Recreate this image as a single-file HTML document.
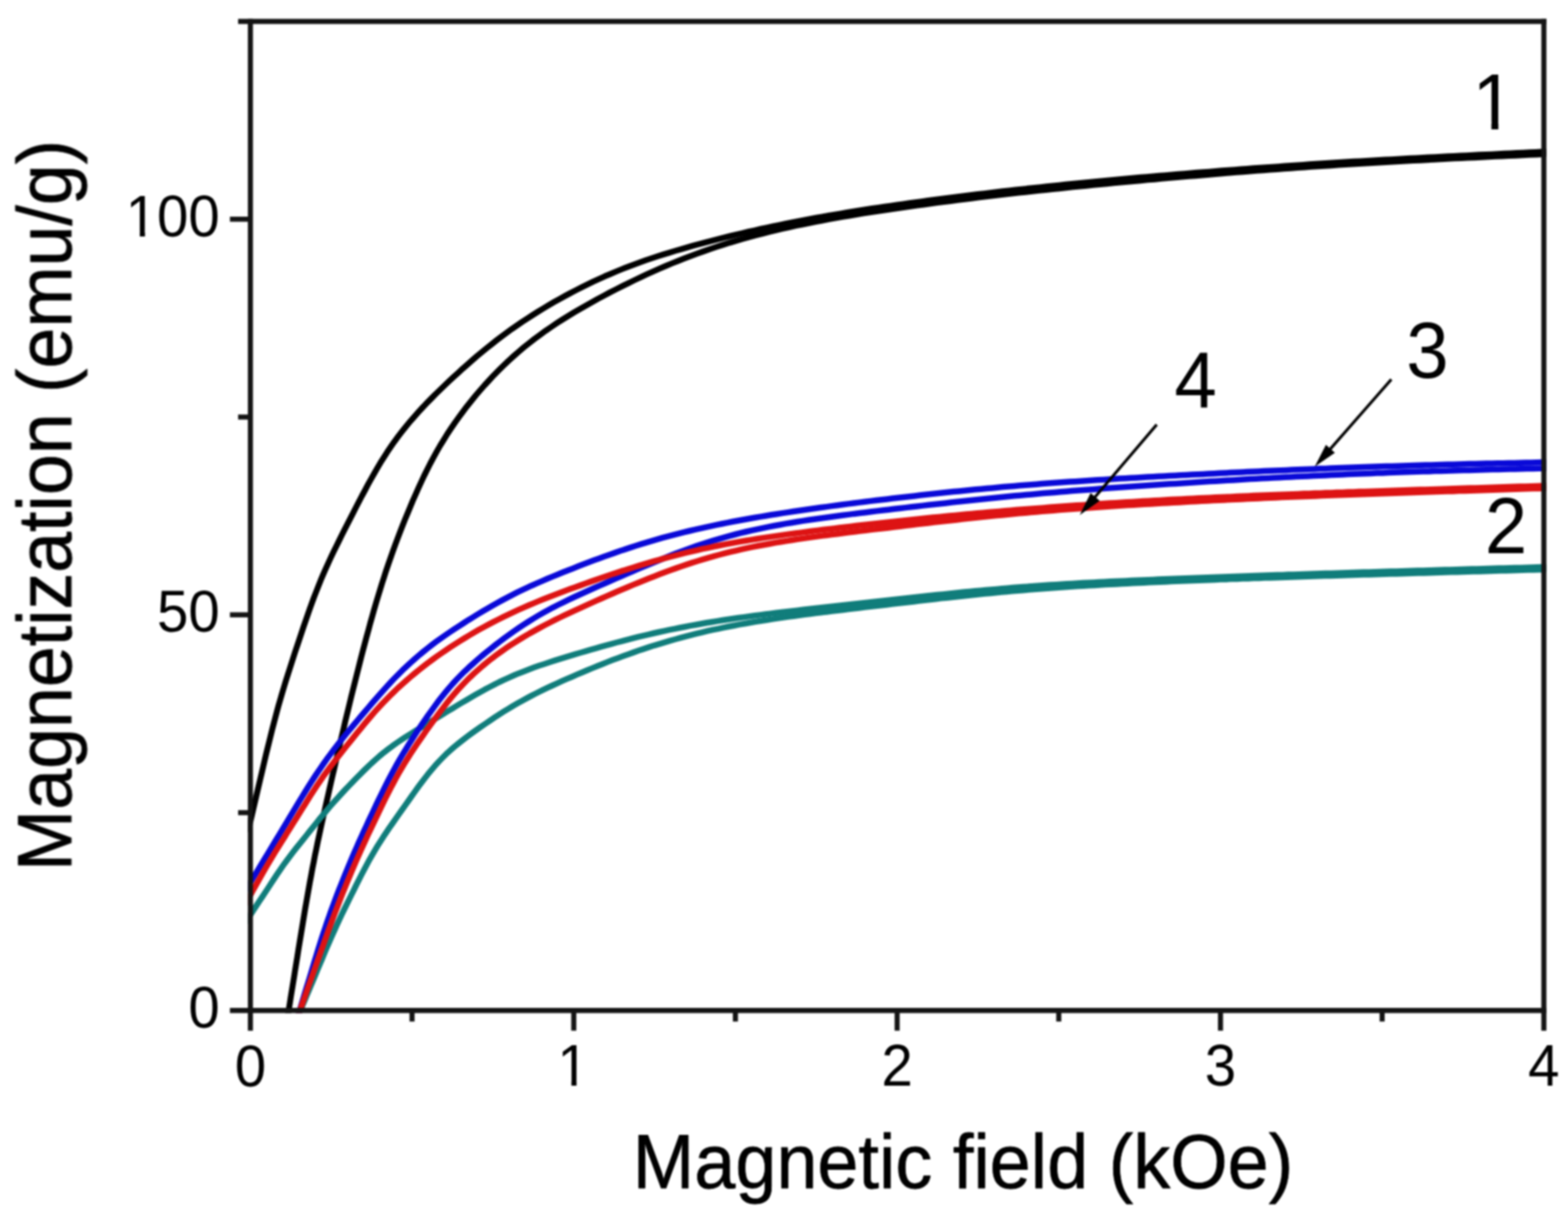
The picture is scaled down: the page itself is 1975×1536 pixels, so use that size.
<!DOCTYPE html>
<html lang="en"><head><meta charset="utf-8"><title>Magnetization vs magnetic field</title>
<style>html,body{margin:0;padding:0;background:#fff}body{width:1975px;height:1536px;overflow:hidden}svg{display:block}text{font-family:'Liberation Sans', sans-serif;fill:#000}</style>
</head><body>
<svg xmlns="http://www.w3.org/2000/svg" width="1975" height="1536" viewBox="0 0 1975 1536">
<defs>
<clipPath id="plot"><rect x="312.2" y="23.8" width="1635.6" height="1252.6"/></clipPath>
<clipPath id="c100"><path clip-rule="evenodd" d="M-50,-50 H2025 V1586 H-50 Z M161.8,291.1 H176.1 V303.7 H161.8 Z M182.6,291.1 H196.5 V303.7 H182.6 Z"/></clipPath>
<clipPath id="c1t"><path clip-rule="evenodd" d="M-50,-50 H2025 V1586 H-50 Z M705.4,1361.8 H719.7 V1374.5 H705.4 Z M726.2,1361.8 H740.1 V1374.5 H726.2 Z"/></clipPath>
<clipPath id="c1l"><path clip-rule="evenodd" d="M-50,-50 H2025 V1586 H-50 Z M1859.2,154.0 H1878.5 V169.0 H1859.2 Z M1887.3,154.0 H1906.1 V169.0 H1887.3 Z"/></clipPath>
<filter id="soft" x="0" y="0" width="1975" height="1536" filterUnits="userSpaceOnUse" color-interpolation-filters="sRGB"><feGaussianBlur stdDeviation="1.0"/></filter>
</defs>
<rect x="0" y="0" width="1975" height="1536" fill="#ffffff"/>
<g filter="url(#soft)">
<g fill="none" stroke-linejoin="round" stroke-linecap="butt" clip-path="url(#plot)">
<path d="M312.2,1048.6 L315.4,1035.0 L317.2,1027.3 L319.0,1019.6 L320.8,1011.9 L322.6,1004.2 L324.4,996.4 L326.2,988.7 L328.0,981.0 L329.8,973.3 L331.6,965.6 L333.4,957.9 L335.2,950.2 L337.1,942.5 L339.0,934.8 L340.9,927.1 L342.8,919.4 L344.8,911.8 L346.8,904.1 L348.8,896.5 L350.9,888.8 L353.1,881.2 L355.3,873.6 L357.6,866.0 L359.9,858.4 L362.3,850.9 L364.7,843.3 L367.1,835.8 L369.5,828.3 L372.0,820.7 L374.5,813.2 L377.0,805.7 L379.5,798.2 L382.0,790.7 L384.6,783.2 L387.2,775.7 L389.8,768.2 L392.5,760.8 L395.2,753.4 L398.1,746.0 L401.0,738.6 L403.9,731.3 L407.0,724.0 L410.2,716.7 L413.5,709.5 L416.8,702.3 L420.2,695.2 L423.7,688.1 L427.2,681.0 L430.7,673.9 L434.3,666.8 L437.9,659.8 L441.5,652.7 L445.1,645.7 L448.7,638.6 L452.4,631.6 L456.0,624.6 L459.8,617.6 L463.5,610.6 L467.3,603.7 L471.2,596.8 L475.2,589.9 L479.2,583.1 L483.4,576.4 L487.7,569.7 L492.1,563.2 L496.6,556.7 L501.3,550.3 L506.1,544.0 L511.0,537.8 L516.1,531.7 L521.3,525.7 L526.5,519.8 L531.9,513.9 L537.3,508.2 L542.9,502.5 L548.4,496.9 L554.1,491.4 L559.8,485.9 L565.5,480.4 L571.3,475.0 L577.2,469.7 L583.0,464.3 L589.0,459.1 L594.9,453.9 L600.9,448.7 L607.0,443.7 L613.1,438.6 L619.3,433.7 L625.5,428.8 L631.8,424.0 L638.2,419.3 L644.6,414.6 L651.1,410.1 L657.6,405.6 L664.2,401.3 L670.9,397.0 L677.6,392.8 L684.4,388.6 L691.2,384.6 L698.0,380.6 L704.9,376.7 L711.8,372.9 L718.8,369.1 L725.8,365.5 L732.9,361.9 L740.0,358.4 L747.1,354.9 L754.3,351.6 L761.5,348.3 L768.8,345.2 L776.1,342.1 L783.4,339.1 L790.8,336.2 L798.2,333.4 L805.6,330.7 L813.1,328.0 L820.6,325.5 L828.1,323.0 L835.6,320.6 L843.2,318.3 L850.8,316.0 L858.4,313.8 L866.0,311.6 L873.6,309.4 L881.3,307.4 L888.9,305.3 L896.6,303.3 L904.2,301.3 L911.9,299.4 L919.6,297.5 L927.3,295.6 L935.0,293.8 L942.7,292.0 L950.4,290.3 L958.2,288.5 L965.9,286.9 L973.6,285.2 L981.4,283.6 L989.2,282.0 L996.9,280.4 L1004.7,278.9 L1012.5,277.4 L1020.2,276.0 L1028.0,274.5 L1035.8,273.1 L1043.6,271.7 L1051.4,270.4 L1059.2,269.1 L1067.0,267.8 L1074.9,266.5 L1082.7,265.3 L1090.5,264.0 L1098.3,262.8 L1106.2,261.7 L1114.0,260.5 L1121.8,259.4 L1129.7,258.2 L1137.5,257.1 L1145.3,256.0 L1153.2,254.9 L1161.0,253.9 L1168.9,252.8 L1176.7,251.8 L1184.6,250.7 L1192.4,249.7 L1200.3,248.7 L1208.1,247.7 L1216.0,246.8 L1223.9,245.8 L1231.7,244.8 L1239.6,243.9 L1247.4,242.9 L1255.3,242.0 L1263.2,241.1 L1271.0,240.2 L1278.9,239.3 L1286.8,238.4 L1294.7,237.6 L1302.5,236.7 L1310.4,235.9 L1318.3,235.0 L1326.1,234.2 L1334.0,233.4 L1341.9,232.6 L1349.8,231.8 L1357.7,231.0 L1365.5,230.2 L1373.4,229.4 L1381.3,228.7 L1389.2,227.9 L1397.1,227.2 L1405.0,226.5 L1412.8,225.8 L1420.7,225.0 L1428.6,224.3 L1436.5,223.6 L1444.4,222.9 L1452.3,222.3 L1460.2,221.6 L1468.1,220.9 L1475.9,220.2 L1483.8,219.6 L1491.7,218.9 L1499.6,218.3 L1507.5,217.6 L1515.4,217.0 L1523.3,216.4 L1531.2,215.8 L1539.1,215.1 L1547.0,214.5 L1554.9,213.9 L1562.8,213.3 L1570.7,212.7 L1578.6,212.1 L1586.5,211.6 L1594.4,211.0 L1602.3,210.4 L1610.1,209.9 L1618.0,209.3 L1625.9,208.7 L1633.8,208.2 L1641.7,207.7 L1649.6,207.1 L1657.5,206.6 L1665.5,206.1 L1673.4,205.6 L1681.3,205.1 L1689.2,204.6 L1697.1,204.1 L1705.0,203.6 L1712.9,203.2 L1720.8,202.7 L1728.7,202.2 L1736.6,201.8 L1744.5,201.3 L1752.4,200.9 L1760.3,200.4 L1768.2,200.0 L1776.1,199.6 L1784.0,199.2 L1791.9,198.7 L1799.8,198.3 L1807.7,197.9 L1815.7,197.5 L1823.6,197.1 L1831.5,196.7 L1839.4,196.3 L1847.3,195.9 L1855.2,195.5 L1863.1,195.1 L1871.0,194.7 L1878.9,194.4 L1886.8,194.0 L1894.7,193.6 L1902.6,193.2 L1910.6,192.8 L1918.5,192.5 L1926.4,192.1 L1934.3,191.7 L1942.2,191.3 L1956.2,190.7" stroke="#000000" stroke-width="7.5"/>
<path d="M361.4,1286.8 L363.6,1273.0 L365.0,1264.5 L366.3,1256.0 L367.7,1247.5 L369.1,1239.0 L370.5,1230.5 L371.8,1222.0 L373.2,1213.5 L374.6,1205.0 L375.9,1196.5 L377.3,1188.0 L378.7,1179.6 L380.1,1171.1 L381.5,1162.6 L382.9,1154.1 L384.3,1145.6 L385.8,1137.1 L387.3,1128.7 L388.8,1120.2 L390.3,1111.7 L391.9,1103.3 L393.4,1094.8 L395.1,1086.4 L396.7,1077.9 L398.5,1069.5 L400.2,1061.1 L402.0,1052.7 L403.8,1044.3 L405.6,1035.9 L407.5,1027.5 L409.4,1019.1 L411.3,1010.7 L413.2,1002.3 L415.1,993.9 L417.0,985.5 L418.9,977.1 L420.9,968.8 L422.8,960.4 L424.8,952.0 L426.7,943.6 L428.7,935.2 L430.7,926.9 L432.7,918.5 L434.6,910.1 L436.6,901.8 L438.7,893.4 L440.7,885.0 L442.7,876.7 L444.8,868.3 L446.9,860.0 L449.0,851.7 L451.1,843.3 L453.2,835.0 L455.3,826.6 L457.5,818.3 L459.7,810.0 L461.9,801.7 L464.2,793.4 L466.4,785.1 L468.8,776.8 L471.1,768.5 L473.5,760.3 L476.0,752.0 L478.5,743.8 L481.0,735.6 L483.7,727.4 L486.3,719.2 L489.1,711.1 L491.9,703.0 L494.8,694.8 L497.7,686.8 L500.7,678.7 L503.8,670.7 L506.9,662.7 L510.1,654.7 L513.4,646.7 L516.7,638.8 L520.0,630.8 L523.5,623.0 L527.0,615.1 L530.6,607.3 L534.2,599.5 L538.0,591.8 L541.9,584.1 L546.0,576.5 L550.1,569.0 L554.4,561.5 L558.9,554.2 L563.4,546.9 L568.2,539.7 L573.0,532.6 L578.0,525.6 L583.1,518.7 L588.3,511.8 L593.7,505.1 L599.1,498.4 L604.7,491.9 L610.4,485.4 L616.2,479.1 L622.0,472.8 L628.1,466.6 L634.2,460.6 L640.4,454.7 L646.8,448.9 L653.3,443.2 L659.8,437.7 L666.5,432.3 L673.3,427.0 L680.2,421.9 L687.2,416.8 L694.3,412.0 L701.4,407.2 L708.7,402.5 L716.0,398.0 L723.3,393.5 L730.7,389.2 L738.2,384.9 L745.7,380.7 L753.2,376.5 L760.8,372.5 L768.4,368.4 L776.1,364.5 L783.7,360.6 L791.4,356.8 L799.2,353.0 L806.9,349.3 L814.7,345.7 L822.6,342.1 L830.4,338.6 L838.3,335.2 L846.3,331.9 L854.2,328.7 L862.2,325.5 L870.3,322.4 L878.3,319.5 L886.4,316.6 L894.6,313.7 L902.7,311.0 L910.9,308.4 L919.1,305.8 L927.4,303.4 L935.6,301.0 L943.9,298.7 L952.2,296.4 L960.5,294.3 L968.9,292.2 L977.3,290.1 L985.6,288.2 L994.0,286.3 L1002.4,284.4 L1010.8,282.7 L1019.3,281.0 L1027.7,279.3 L1036.2,277.7 L1044.6,276.1 L1053.1,274.6 L1061.6,273.1 L1070.0,271.7 L1078.5,270.3 L1087.0,268.9 L1095.5,267.6 L1104.0,266.3 L1112.5,265.0 L1121.0,263.7 L1129.5,262.5 L1138.1,261.3 L1146.6,260.1 L1155.1,258.9 L1163.6,257.7 L1172.1,256.6 L1180.7,255.4 L1189.2,254.3 L1197.7,253.2 L1206.3,252.1 L1214.8,251.0 L1223.3,250.0 L1231.9,248.9 L1240.4,247.9 L1248.9,246.9 L1257.5,245.9 L1266.0,244.9 L1274.6,243.9 L1283.1,242.9 L1291.7,242.0 L1300.2,241.0 L1308.8,240.1 L1317.3,239.2 L1325.9,238.2 L1334.4,237.4 L1343.0,236.5 L1351.5,235.6 L1360.1,234.7 L1368.7,233.9 L1377.2,233.0 L1385.8,232.2 L1394.3,231.4 L1402.9,230.6 L1411.5,229.8 L1420.0,229.0 L1428.6,228.2 L1437.2,227.4 L1445.7,226.6 L1454.3,225.9 L1462.9,225.1 L1471.4,224.3 L1480.0,223.6 L1488.6,222.8 L1497.2,222.1 L1505.7,221.4 L1514.3,220.7 L1522.9,219.9 L1531.4,219.2 L1540.0,218.5 L1548.6,217.8 L1557.2,217.1 L1565.7,216.5 L1574.3,215.8 L1582.9,215.1 L1591.5,214.5 L1600.0,213.8 L1608.6,213.2 L1617.2,212.6 L1625.8,211.9 L1634.4,211.3 L1642.9,210.7 L1651.5,210.1 L1660.1,209.5 L1668.7,209.0 L1677.3,208.4 L1685.9,207.8 L1694.4,207.3 L1703.0,206.8 L1711.6,206.2 L1720.2,205.7 L1728.8,205.2 L1737.4,204.7 L1746.0,204.2 L1754.5,203.7 L1763.1,203.3 L1771.7,202.8 L1780.3,202.3 L1788.9,201.9 L1797.5,201.4 L1806.1,201.0 L1814.7,200.5 L1823.3,200.1 L1831.8,199.6 L1840.4,199.2 L1849.0,198.8 L1857.6,198.4 L1866.2,197.9 L1874.8,197.5 L1883.4,197.1 L1892.0,196.7 L1900.6,196.3 L1909.2,195.9 L1917.8,195.5 L1926.4,195.1 L1934.9,194.7 L1943.5,194.3 L1957.5,193.6" stroke="#000000" stroke-width="7.5"/>
<path d="M307.8,1164.3 L315.5,1152.6 L319.2,1146.9 L323.0,1141.2 L326.7,1135.5 L330.5,1129.8 L334.2,1124.2 L338.0,1118.5 L341.7,1112.8 L345.4,1107.1 L349.2,1101.4 L353.0,1095.8 L356.9,1090.2 L360.9,1084.7 L365.0,1079.2 L369.1,1073.8 L373.3,1068.4 L377.6,1063.1 L381.8,1057.8 L386.1,1052.5 L390.3,1047.2 L394.6,1041.9 L398.9,1036.5 L403.1,1031.2 L407.5,1026.0 L411.8,1020.8 L416.2,1015.6 L420.7,1010.5 L425.3,1005.4 L429.9,1000.4 L434.5,995.4 L439.2,990.5 L443.9,985.6 L448.7,980.7 L453.5,975.8 L458.3,971.0 L463.2,966.3 L468.1,961.6 L473.2,957.0 L478.3,952.5 L483.5,948.2 L488.9,944.0 L494.4,939.9 L499.9,936.0 L505.6,932.2 L511.3,928.4 L517.0,924.8 L522.8,921.2 L528.6,917.7 L534.4,914.1 L540.2,910.6 L546.1,907.1 L551.9,903.5 L557.7,900.0 L563.5,896.4 L569.4,892.9 L575.2,889.4 L581.0,885.9 L586.9,882.4 L592.8,879.0 L598.7,875.6 L604.6,872.2 L610.5,868.9 L616.6,865.7 L622.6,862.6 L628.7,859.5 L634.8,856.6 L641.0,853.8 L647.3,851.0 L653.5,848.4 L659.9,845.9 L666.2,843.5 L672.6,841.1 L679.0,838.8 L685.5,836.7 L692.0,834.5 L698.4,832.4 L704.9,830.4 L711.4,828.4 L718.0,826.4 L724.5,824.4 L731.0,822.5 L737.5,820.6 L744.1,818.7 L750.6,816.8 L757.2,814.9 L763.7,813.1 L770.3,811.3 L776.9,809.5 L783.5,807.8 L790.0,806.1 L796.6,804.4 L803.3,802.7 L809.9,801.1 L816.5,799.6 L823.1,798.0 L829.8,796.5 L836.4,795.1 L843.1,793.7 L849.8,792.3 L856.4,791.0 L863.1,789.7 L869.8,788.4 L876.5,787.2 L883.2,786.0 L889.9,784.8 L896.6,783.7 L903.4,782.6 L910.1,781.5 L916.8,780.5 L923.6,779.5 L930.3,778.5 L937.0,777.6 L943.8,776.6 L950.5,775.7 L957.3,774.9 L964.0,774.0 L970.8,773.1 L977.6,772.3 L984.3,771.5 L991.1,770.7 L997.8,769.9 L1004.6,769.1 L1011.4,768.3 L1018.1,767.5 L1024.9,766.7 L1031.7,766.0 L1038.4,765.2 L1045.2,764.5 L1052.0,763.7 L1058.7,762.9 L1065.5,762.2 L1072.3,761.4 L1079.0,760.7 L1085.8,759.9 L1092.6,759.2 L1099.3,758.4 L1106.1,757.7 L1112.9,756.9 L1119.7,756.2 L1126.4,755.4 L1133.2,754.7 L1140.0,754.0 L1146.7,753.2 L1153.5,752.5 L1160.3,751.8 L1167.0,751.0 L1173.8,750.3 L1180.6,749.6 L1187.4,748.9 L1194.1,748.2 L1200.9,747.5 L1207.7,746.8 L1214.5,746.1 L1221.2,745.5 L1228.0,744.8 L1234.8,744.2 L1241.6,743.6 L1248.4,743.0 L1255.1,742.4 L1261.9,741.8 L1268.7,741.2 L1275.5,740.6 L1282.3,740.1 L1289.1,739.6 L1295.9,739.1 L1302.7,738.6 L1309.5,738.1 L1316.2,737.6 L1323.0,737.1 L1329.8,736.7 L1336.6,736.3 L1343.4,735.8 L1350.2,735.4 L1357.0,735.0 L1363.8,734.6 L1370.6,734.3 L1377.4,733.9 L1384.2,733.5 L1391.0,733.2 L1397.8,732.8 L1404.6,732.5 L1411.4,732.2 L1418.2,731.9 L1425.0,731.6 L1431.8,731.3 L1438.6,731.0 L1445.4,730.7 L1452.2,730.4 L1459.0,730.1 L1465.9,729.8 L1472.7,729.5 L1479.5,729.3 L1486.3,729.0 L1493.1,728.7 L1499.9,728.5 L1506.7,728.2 L1513.5,727.9 L1520.3,727.7 L1527.1,727.4 L1533.9,727.2 L1540.7,726.9 L1547.5,726.7 L1554.3,726.5 L1561.1,726.2 L1567.9,726.0 L1574.7,725.7 L1581.5,725.5 L1588.3,725.3 L1595.2,725.0 L1602.0,724.8 L1608.8,724.6 L1615.6,724.4 L1622.4,724.1 L1629.2,723.9 L1636.0,723.7 L1642.8,723.5 L1649.6,723.3 L1656.4,723.0 L1663.2,722.8 L1670.0,722.6 L1676.8,722.4 L1683.6,722.2 L1690.4,722.0 L1697.2,721.8 L1704.1,721.5 L1710.9,721.3 L1717.7,721.1 L1724.5,720.9 L1731.3,720.7 L1738.1,720.5 L1744.9,720.3 L1751.7,720.1 L1758.5,719.9 L1765.3,719.7 L1772.1,719.5 L1778.9,719.3 L1785.7,719.1 L1792.5,718.9 L1799.3,718.7 L1806.2,718.5 L1813.0,718.3 L1819.8,718.1 L1826.6,717.9 L1833.4,717.7 L1840.2,717.5 L1847.0,717.3 L1853.8,717.1 L1860.6,716.9 L1867.4,716.7 L1874.2,716.5 L1881.0,716.3 L1887.8,716.1 L1894.6,715.9 L1901.5,715.7 L1908.3,715.5 L1915.1,715.4 L1921.9,715.2 L1928.7,715.0 L1935.5,714.8 L1942.3,714.6 L1956.3,714.2" stroke="#107d7b" stroke-width="7.5"/>
<path d="M373.1,1285.9 L378.5,1273.0 L381.2,1266.6 L383.9,1260.2 L386.5,1253.9 L389.2,1247.5 L391.9,1241.1 L394.6,1234.7 L397.3,1228.3 L399.9,1221.9 L402.6,1215.6 L405.3,1209.2 L407.9,1202.8 L410.6,1196.4 L413.4,1190.1 L416.1,1183.7 L418.9,1177.4 L421.8,1171.1 L424.6,1164.8 L427.6,1158.5 L430.5,1152.2 L433.5,1146.0 L436.6,1139.8 L439.6,1133.6 L442.7,1127.4 L445.8,1121.2 L448.8,1115.0 L452.0,1108.8 L455.1,1102.6 L458.3,1096.5 L461.5,1090.4 L464.8,1084.3 L468.2,1078.3 L471.7,1072.3 L475.3,1066.3 L479.0,1060.5 L482.7,1054.7 L486.6,1048.9 L490.4,1043.2 L494.4,1037.5 L498.3,1031.8 L502.3,1026.1 L506.3,1020.5 L510.3,1014.8 L514.3,1009.2 L518.3,1003.5 L522.3,997.9 L526.3,992.3 L530.4,986.7 L534.6,981.2 L538.9,975.7 L543.3,970.4 L547.8,965.1 L552.4,960.0 L557.2,955.0 L562.1,950.1 L567.2,945.4 L572.4,940.9 L577.8,936.5 L583.2,932.2 L588.7,928.0 L594.3,923.9 L599.9,919.9 L605.6,915.9 L611.3,912.0 L617.0,908.1 L622.8,904.2 L628.6,900.4 L634.4,896.7 L640.3,893.1 L646.2,889.5 L652.2,886.1 L658.2,882.7 L664.3,879.4 L670.4,876.1 L676.6,873.0 L682.8,869.9 L689.0,866.9 L695.3,864.0 L701.6,861.1 L707.9,858.2 L714.2,855.4 L720.6,852.7 L726.9,849.9 L733.3,847.2 L739.7,844.5 L746.1,841.9 L752.5,839.3 L758.9,836.7 L765.3,834.1 L771.8,831.6 L778.3,829.2 L784.8,826.8 L791.3,824.4 L797.8,822.1 L804.3,819.8 L810.9,817.6 L817.5,815.4 L824.0,813.3 L830.7,811.3 L837.3,809.3 L843.9,807.4 L850.6,805.5 L857.3,803.6 L863.9,801.8 L870.7,800.1 L877.4,798.4 L884.1,796.8 L890.8,795.2 L897.6,793.7 L904.4,792.3 L911.1,790.9 L917.9,789.5 L924.7,788.2 L931.5,786.9 L938.3,785.7 L945.1,784.5 L952.0,783.4 L958.8,782.2 L965.6,781.2 L972.5,780.1 L979.3,779.1 L986.2,778.1 L993.0,777.1 L999.9,776.2 L1006.7,775.3 L1013.6,774.4 L1020.5,773.5 L1027.3,772.6 L1034.2,771.7 L1041.1,770.9 L1047.9,770.1 L1054.8,769.2 L1061.7,768.4 L1068.6,767.6 L1075.4,766.7 L1082.3,765.9 L1089.2,765.1 L1096.1,764.3 L1102.9,763.5 L1109.8,762.7 L1116.7,761.9 L1123.6,761.1 L1130.4,760.3 L1137.3,759.5 L1144.2,758.7 L1151.1,757.9 L1157.9,757.1 L1164.8,756.3 L1171.7,755.5 L1178.6,754.7 L1185.4,753.9 L1192.3,753.2 L1199.2,752.4 L1206.1,751.7 L1213.0,750.9 L1219.8,750.2 L1226.7,749.5 L1233.6,748.8 L1240.5,748.1 L1247.4,747.4 L1254.3,746.7 L1261.2,746.1 L1268.1,745.5 L1274.9,744.8 L1281.8,744.2 L1288.7,743.7 L1295.6,743.1 L1302.5,742.5 L1309.4,742.0 L1316.3,741.5 L1323.2,741.0 L1330.1,740.5 L1337.0,740.0 L1344.0,739.5 L1350.9,739.1 L1357.8,738.6 L1364.7,738.2 L1371.6,737.8 L1378.5,737.4 L1385.4,737.0 L1392.3,736.6 L1399.2,736.2 L1406.1,735.9 L1413.1,735.5 L1420.0,735.2 L1426.9,734.8 L1433.8,734.5 L1440.7,734.2 L1447.6,733.8 L1454.5,733.5 L1461.4,733.2 L1468.4,732.9 L1475.3,732.6 L1482.2,732.3 L1489.1,732.0 L1496.0,731.8 L1502.9,731.5 L1509.9,731.2 L1516.8,730.9 L1523.7,730.7 L1530.6,730.4 L1537.5,730.1 L1544.4,729.9 L1551.4,729.6 L1558.3,729.4 L1565.2,729.1 L1572.1,728.9 L1579.0,728.6 L1585.9,728.4 L1592.9,728.1 L1599.8,727.9 L1606.7,727.7 L1613.6,727.4 L1620.5,727.2 L1627.4,727.0 L1634.4,726.7 L1641.3,726.5 L1648.2,726.3 L1655.1,726.1 L1662.0,725.8 L1668.9,725.6 L1675.9,725.4 L1682.8,725.2 L1689.7,725.0 L1696.6,724.8 L1703.5,724.5 L1710.5,724.3 L1717.4,724.1 L1724.3,723.9 L1731.2,723.7 L1738.1,723.5 L1745.0,723.3 L1752.0,723.1 L1758.9,722.9 L1765.8,722.7 L1772.7,722.5 L1779.6,722.3 L1786.6,722.1 L1793.5,721.9 L1800.4,721.7 L1807.3,721.5 L1814.2,721.3 L1821.1,721.0 L1828.1,720.8 L1835.0,720.7 L1841.9,720.5 L1848.8,720.3 L1855.7,720.1 L1862.7,719.9 L1869.6,719.7 L1876.5,719.5 L1883.4,719.3 L1890.3,719.1 L1897.2,718.9 L1904.2,718.7 L1911.1,718.5 L1918.0,718.3 L1924.9,718.1 L1931.8,717.9 L1938.8,717.7 L1952.8,717.3" stroke="#107d7b" stroke-width="7.5"/>
<path d="M308.3,1123.6 L315.5,1111.6 L319.1,1105.6 L322.8,1099.6 L326.4,1093.6 L330.0,1087.6 L333.6,1081.6 L337.3,1075.6 L340.9,1069.6 L344.5,1063.6 L348.1,1057.6 L351.8,1051.6 L355.4,1045.6 L359.0,1039.6 L362.6,1033.6 L366.2,1027.6 L369.8,1021.6 L373.4,1015.6 L377.0,1009.6 L380.7,1003.6 L384.3,997.7 L388.0,991.7 L391.8,985.8 L395.6,979.9 L399.4,974.1 L403.4,968.3 L407.4,962.5 L411.4,956.8 L415.6,951.1 L419.8,945.5 L424.0,940.0 L428.3,934.5 L432.7,929.0 L437.1,923.5 L441.6,918.1 L446.1,912.8 L450.6,907.4 L455.1,902.0 L459.6,896.7 L464.2,891.4 L468.7,886.0 L473.3,880.7 L477.9,875.5 L482.6,870.2 L487.3,865.0 L492.0,859.9 L496.8,854.8 L501.7,849.8 L506.7,844.8 L511.8,840.0 L516.9,835.2 L522.1,830.6 L527.4,826.0 L532.8,821.5 L538.3,817.1 L543.8,812.8 L549.4,808.6 L555.1,804.5 L560.8,800.5 L566.6,796.5 L572.4,792.6 L578.3,788.8 L584.2,785.0 L590.1,781.2 L596.0,777.6 L602.0,773.9 L608.0,770.3 L614.1,766.8 L620.1,763.3 L626.3,759.8 L632.4,756.4 L638.6,753.1 L644.8,749.9 L651.0,746.7 L657.3,743.7 L663.7,740.7 L670.0,737.7 L676.4,734.9 L682.8,732.1 L689.3,729.3 L695.7,726.6 L702.2,724.0 L708.7,721.3 L715.2,718.7 L721.8,716.2 L728.3,713.6 L734.8,711.1 L741.4,708.6 L747.9,706.1 L754.5,703.7 L761.1,701.3 L767.7,698.9 L774.3,696.6 L780.9,694.3 L787.5,692.1 L794.2,689.9 L800.8,687.7 L807.5,685.6 L814.2,683.6 L820.9,681.6 L827.7,679.6 L834.4,677.7 L841.2,675.9 L847.9,674.1 L854.7,672.3 L861.5,670.6 L868.3,669.0 L875.2,667.4 L882.0,665.8 L888.8,664.3 L895.7,662.8 L902.5,661.4 L909.4,660.0 L916.3,658.6 L923.1,657.3 L930.0,656.0 L936.9,654.7 L943.8,653.5 L950.7,652.3 L957.6,651.1 L964.5,650.0 L971.4,648.8 L978.4,647.7 L985.3,646.6 L992.2,645.6 L999.1,644.5 L1006.1,643.5 L1013.0,642.5 L1019.9,641.5 L1026.9,640.5 L1033.8,639.5 L1040.8,638.6 L1047.7,637.6 L1054.6,636.7 L1061.6,635.8 L1068.5,634.9 L1075.5,634.0 L1082.4,633.1 L1089.4,632.3 L1096.3,631.4 L1103.3,630.6 L1110.2,629.7 L1117.2,628.9 L1124.2,628.1 L1131.1,627.3 L1138.1,626.5 L1145.0,625.7 L1152.0,624.9 L1159.0,624.1 L1165.9,623.3 L1172.9,622.6 L1179.9,621.8 L1186.8,621.1 L1193.8,620.3 L1200.8,619.6 L1207.7,618.9 L1214.7,618.2 L1221.7,617.5 L1228.6,616.8 L1235.6,616.2 L1242.6,615.5 L1249.6,614.9 L1256.6,614.2 L1263.5,613.6 L1270.5,613.0 L1277.5,612.4 L1284.5,611.8 L1291.5,611.3 L1298.4,610.7 L1305.4,610.2 L1312.4,609.6 L1319.4,609.1 L1326.4,608.6 L1333.4,608.1 L1340.4,607.6 L1347.3,607.1 L1354.3,606.7 L1361.3,606.2 L1368.3,605.7 L1375.3,605.3 L1382.3,604.8 L1389.3,604.4 L1396.3,604.0 L1403.3,603.6 L1410.3,603.1 L1417.3,602.7 L1424.3,602.3 L1431.3,601.9 L1438.3,601.5 L1445.2,601.1 L1452.2,600.7 L1459.2,600.3 L1466.2,600.0 L1473.2,599.6 L1480.2,599.2 L1487.2,598.8 L1494.2,598.5 L1501.2,598.1 L1508.2,597.7 L1515.2,597.4 L1522.2,597.0 L1529.2,596.7 L1536.2,596.3 L1543.2,596.0 L1550.2,595.6 L1557.2,595.3 L1564.2,594.9 L1571.2,594.6 L1578.2,594.3 L1585.2,593.9 L1592.2,593.6 L1599.2,593.3 L1606.2,593.0 L1613.2,592.7 L1620.2,592.4 L1627.2,592.1 L1634.2,591.8 L1641.2,591.5 L1648.2,591.2 L1655.2,590.9 L1662.2,590.6 L1669.2,590.4 L1676.2,590.1 L1683.2,589.8 L1690.2,589.5 L1697.2,589.3 L1704.2,589.0 L1711.2,588.8 L1718.2,588.5 L1725.2,588.3 L1732.2,588.1 L1739.2,587.8 L1746.2,587.6 L1753.2,587.4 L1760.2,587.2 L1767.2,586.9 L1774.2,586.7 L1781.2,586.5 L1788.2,586.3 L1795.2,586.1 L1802.2,585.9 L1809.2,585.7 L1816.2,585.5 L1823.2,585.3 L1830.2,585.2 L1837.2,585.0 L1844.2,584.8 L1851.2,584.6 L1858.2,584.5 L1865.2,584.3 L1872.2,584.1 L1879.3,584.0 L1886.3,583.8 L1893.3,583.7 L1900.3,583.5 L1907.3,583.4 L1914.3,583.2 L1921.3,583.1 L1928.3,582.9 L1935.3,582.8 L1942.3,582.6 L1956.3,582.4" stroke="#0909d8" stroke-width="7.5"/>
<path d="M373.4,1286.4 L377.5,1273.0 L379.6,1266.0 L381.7,1259.1 L383.8,1252.1 L385.9,1245.2 L388.1,1238.2 L390.2,1231.3 L392.3,1224.3 L394.4,1217.4 L396.5,1210.4 L398.6,1203.5 L400.7,1196.6 L402.9,1189.6 L405.1,1182.7 L407.4,1175.8 L409.7,1168.9 L412.0,1162.0 L414.4,1155.2 L416.8,1148.3 L419.3,1141.5 L421.8,1134.7 L424.4,1127.9 L427.0,1121.1 L429.7,1114.4 L432.4,1107.6 L435.1,1100.9 L437.9,1094.2 L440.7,1087.5 L443.5,1080.8 L446.4,1074.1 L449.3,1067.5 L452.2,1060.8 L455.2,1054.2 L458.2,1047.6 L461.3,1041.0 L464.3,1034.4 L467.4,1027.8 L470.5,1021.3 L473.6,1014.7 L476.7,1008.1 L479.9,1001.6 L483.1,995.1 L486.3,988.6 L489.6,982.1 L493.0,975.7 L496.5,969.3 L500.0,962.9 L503.6,956.6 L507.3,950.4 L511.1,944.2 L514.9,938.0 L518.8,931.9 L522.7,925.8 L526.7,919.7 L530.8,913.7 L534.9,907.7 L539.0,901.7 L543.2,895.8 L547.5,889.9 L551.8,884.1 L556.2,878.3 L560.8,872.7 L565.4,867.1 L570.2,861.6 L575.1,856.3 L580.2,851.0 L585.3,845.9 L590.6,840.9 L596.0,836.1 L601.4,831.3 L606.9,826.5 L612.5,821.9 L618.2,817.3 L623.9,812.8 L629.6,808.4 L635.4,804.0 L641.3,799.8 L647.2,795.5 L653.2,791.4 L659.2,787.4 L665.3,783.5 L671.5,779.6 L677.7,775.9 L684.0,772.3 L690.4,768.8 L696.8,765.3 L703.3,762.0 L709.8,758.8 L716.3,755.6 L722.9,752.5 L729.5,749.5 L736.1,746.5 L742.7,743.5 L749.3,740.5 L756.0,737.6 L762.6,734.7 L769.3,731.8 L775.9,728.9 L782.6,726.0 L789.3,723.1 L796.0,720.3 L802.6,717.4 L809.3,714.6 L816.0,711.8 L822.7,709.0 L829.4,706.2 L836.2,703.5 L842.9,700.8 L849.7,698.1 L856.5,695.5 L863.3,693.0 L870.1,690.5 L876.9,688.1 L883.8,685.8 L890.7,683.6 L897.7,681.4 L904.6,679.3 L911.6,677.3 L918.6,675.3 L925.6,673.5 L932.7,671.7 L939.7,670.0 L946.8,668.4 L953.9,666.8 L961.0,665.3 L968.1,663.9 L975.2,662.5 L982.4,661.2 L989.5,659.9 L996.7,658.7 L1003.9,657.5 L1011.0,656.4 L1018.2,655.3 L1025.4,654.2 L1032.6,653.2 L1039.8,652.2 L1047.0,651.2 L1054.2,650.2 L1061.4,649.3 L1068.6,648.4 L1075.8,647.4 L1083.0,646.6 L1090.2,645.7 L1097.4,644.8 L1104.6,643.9 L1111.8,643.0 L1119.0,642.2 L1126.3,641.3 L1133.5,640.5 L1140.7,639.6 L1147.9,638.8 L1155.1,638.0 L1162.3,637.1 L1169.5,636.3 L1176.8,635.5 L1184.0,634.7 L1191.2,633.9 L1198.4,633.0 L1205.6,632.3 L1212.9,631.5 L1220.1,630.7 L1227.3,629.9 L1234.5,629.2 L1241.7,628.4 L1249.0,627.7 L1256.2,626.9 L1263.4,626.2 L1270.7,625.5 L1277.9,624.8 L1285.1,624.2 L1292.3,623.5 L1299.6,622.9 L1306.8,622.2 L1314.0,621.6 L1321.3,621.0 L1328.5,620.4 L1335.8,619.8 L1343.0,619.2 L1350.2,618.6 L1357.5,618.0 L1364.7,617.5 L1372.0,616.9 L1379.2,616.4 L1386.5,615.8 L1393.7,615.3 L1400.9,614.8 L1408.2,614.3 L1415.4,613.8 L1422.7,613.3 L1429.9,612.8 L1437.2,612.3 L1444.4,611.8 L1451.7,611.3 L1458.9,610.8 L1466.1,610.3 L1473.4,609.8 L1480.6,609.4 L1487.9,608.9 L1495.1,608.4 L1502.4,608.0 L1509.6,607.5 L1516.9,607.1 L1524.1,606.6 L1531.4,606.2 L1538.6,605.7 L1545.9,605.3 L1553.1,604.9 L1560.4,604.5 L1567.6,604.0 L1574.9,603.6 L1582.1,603.2 L1589.4,602.8 L1596.6,602.4 L1603.9,602.1 L1611.1,601.7 L1618.4,601.3 L1625.7,600.9 L1632.9,600.6 L1640.2,600.2 L1647.4,599.9 L1654.7,599.5 L1661.9,599.2 L1669.2,598.9 L1676.4,598.5 L1683.7,598.2 L1690.9,597.9 L1698.2,597.6 L1705.5,597.3 L1712.7,597.0 L1720.0,596.7 L1727.2,596.4 L1734.5,596.1 L1741.7,595.9 L1749.0,595.6 L1756.3,595.3 L1763.5,595.1 L1770.8,594.8 L1778.0,594.6 L1785.3,594.3 L1792.6,594.1 L1799.8,593.9 L1807.1,593.6 L1814.3,593.4 L1821.6,593.2 L1828.9,593.0 L1836.1,592.8 L1843.4,592.6 L1850.6,592.4 L1857.9,592.2 L1865.2,592.0 L1872.4,591.8 L1879.7,591.6 L1886.9,591.4 L1894.2,591.3 L1901.5,591.1 L1908.7,590.9 L1916.0,590.8 L1923.2,590.6 L1930.5,590.4 L1937.8,590.3 L1951.8,590.0" stroke="#0909d8" stroke-width="7.5"/>
<path d="M308.7,1139.8 L315.5,1127.6 L318.9,1121.5 L322.3,1115.4 L325.7,1109.3 L329.2,1103.2 L332.6,1097.1 L336.1,1091.1 L339.7,1085.1 L343.3,1079.1 L346.9,1073.1 L350.6,1067.2 L354.3,1061.3 L358.0,1055.4 L361.7,1049.4 L365.4,1043.5 L369.1,1037.6 L372.8,1031.7 L376.5,1025.7 L380.2,1019.8 L383.9,1013.9 L387.6,1008.0 L391.3,1002.1 L395.1,996.2 L398.9,990.4 L402.9,984.6 L406.8,978.8 L410.9,973.2 L415.1,967.5 L419.3,962.0 L423.5,956.5 L427.9,951.0 L432.2,945.5 L436.5,940.0 L440.9,934.6 L445.3,929.1 L449.7,923.7 L454.1,918.3 L458.5,912.9 L463.0,907.5 L467.5,902.2 L472.1,896.9 L476.8,891.7 L481.5,886.6 L486.4,881.6 L491.3,876.6 L496.3,871.7 L501.3,866.9 L506.5,862.2 L511.7,857.6 L517.0,853.0 L522.4,848.5 L527.8,844.1 L533.3,839.8 L538.8,835.5 L544.4,831.4 L550.0,827.3 L555.8,823.2 L561.5,819.3 L567.3,815.4 L573.2,811.6 L579.1,807.9 L585.0,804.2 L591.0,800.6 L597.1,797.1 L603.1,793.6 L609.2,790.2 L615.4,786.9 L621.6,783.7 L627.8,780.5 L634.0,777.4 L640.3,774.3 L646.6,771.3 L653.0,768.4 L659.3,765.6 L665.8,762.8 L672.2,760.1 L678.6,757.4 L685.1,754.8 L691.6,752.2 L698.1,749.7 L704.6,747.2 L711.2,744.8 L717.7,742.3 L724.3,739.9 L730.9,737.6 L737.4,735.2 L744.0,732.9 L750.6,730.6 L757.2,728.3 L763.8,726.0 L770.4,723.8 L777.1,721.6 L783.7,719.4 L790.4,717.3 L797.0,715.2 L803.7,713.1 L810.4,711.1 L817.1,709.1 L823.8,707.2 L830.5,705.3 L837.2,703.4 L844.0,701.6 L850.7,699.8 L857.5,698.1 L864.3,696.4 L871.1,694.8 L877.9,693.3 L884.7,691.7 L891.5,690.3 L898.4,688.8 L905.2,687.5 L912.1,686.1 L918.9,684.9 L925.8,683.6 L932.7,682.4 L939.6,681.2 L946.5,680.1 L953.4,679.0 L960.3,677.9 L967.2,676.9 L974.1,675.9 L981.0,674.9 L987.9,673.9 L994.8,672.9 L1001.8,672.0 L1008.7,671.1 L1015.6,670.2 L1022.5,669.3 L1029.5,668.4 L1036.4,667.5 L1043.3,666.7 L1050.3,665.9 L1057.2,665.0 L1064.1,664.2 L1071.1,663.4 L1078.0,662.6 L1084.9,661.8 L1091.9,661.0 L1098.8,660.2 L1105.8,659.5 L1112.7,658.7 L1119.6,657.9 L1126.6,657.2 L1133.5,656.4 L1140.5,655.7 L1147.4,655.0 L1154.4,654.3 L1161.3,653.6 L1168.3,652.8 L1175.2,652.1 L1182.2,651.5 L1189.1,650.8 L1196.1,650.1 L1203.0,649.4 L1210.0,648.8 L1216.9,648.1 L1223.9,647.5 L1230.8,646.8 L1237.8,646.2 L1244.8,645.6 L1251.7,645.0 L1258.7,644.4 L1265.6,643.8 L1272.6,643.2 L1279.6,642.6 L1286.5,642.0 L1293.5,641.5 L1300.4,640.9 L1307.4,640.4 L1314.4,639.9 L1321.3,639.3 L1328.3,638.8 L1335.3,638.3 L1342.2,637.8 L1349.2,637.3 L1356.2,636.8 L1363.1,636.4 L1370.1,635.9 L1377.1,635.4 L1384.0,635.0 L1391.0,634.5 L1398.0,634.1 L1404.9,633.7 L1411.9,633.2 L1418.9,632.8 L1425.9,632.4 L1432.8,632.0 L1439.8,631.6 L1446.8,631.2 L1453.8,630.8 L1460.7,630.4 L1467.7,630.0 L1474.7,629.6 L1481.7,629.3 L1488.6,628.9 L1495.6,628.6 L1502.6,628.2 L1509.6,627.8 L1516.5,627.5 L1523.5,627.2 L1530.5,626.8 L1537.5,626.5 L1544.4,626.2 L1551.4,625.9 L1558.4,625.5 L1565.4,625.2 L1572.3,624.9 L1579.3,624.6 L1586.3,624.3 L1593.3,624.1 L1600.3,623.8 L1607.2,623.5 L1614.2,623.2 L1621.2,622.9 L1628.2,622.7 L1635.2,622.4 L1642.1,622.1 L1649.1,621.9 L1656.1,621.6 L1663.1,621.4 L1670.0,621.1 L1677.0,620.9 L1684.0,620.6 L1691.0,620.4 L1698.0,620.1 L1704.9,619.9 L1711.9,619.6 L1718.9,619.4 L1725.9,619.2 L1732.9,618.9 L1739.9,618.7 L1746.8,618.5 L1753.8,618.2 L1760.8,618.0 L1767.8,617.8 L1774.8,617.6 L1781.7,617.3 L1788.7,617.1 L1795.7,616.9 L1802.7,616.7 L1809.7,616.4 L1816.6,616.2 L1823.6,616.0 L1830.6,615.8 L1837.6,615.5 L1844.6,615.3 L1851.5,615.1 L1858.5,614.9 L1865.5,614.7 L1872.5,614.4 L1879.5,614.2 L1886.4,614.0 L1893.4,613.8 L1900.4,613.5 L1907.4,613.3 L1914.4,613.1 L1921.4,612.9 L1928.3,612.7 L1935.3,612.4 L1942.3,612.2 L1956.3,611.8" stroke="#dd1313" stroke-width="7.5"/>
<path d="M373.3,1286.5 L377.9,1273.3 L380.2,1266.5 L382.6,1259.7 L385.0,1252.9 L387.4,1246.1 L389.8,1239.3 L392.2,1232.5 L394.6,1225.8 L397.0,1219.0 L399.4,1212.2 L401.9,1205.4 L404.3,1198.6 L406.7,1191.9 L409.1,1185.1 L411.6,1178.3 L414.0,1171.5 L416.5,1164.8 L419.0,1158.0 L421.5,1151.3 L424.1,1144.6 L426.7,1137.8 L429.3,1131.1 L432.0,1124.4 L434.7,1117.8 L437.4,1111.1 L440.2,1104.5 L443.0,1097.8 L445.8,1091.2 L448.7,1084.6 L451.6,1078.0 L454.5,1071.5 L457.5,1064.9 L460.5,1058.4 L463.5,1051.8 L466.6,1045.3 L469.7,1038.8 L472.8,1032.3 L475.9,1025.8 L479.0,1019.3 L482.1,1012.8 L485.3,1006.4 L488.6,999.9 L491.8,993.5 L495.2,987.2 L498.6,980.8 L502.1,974.5 L505.7,968.3 L509.4,962.1 L513.2,956.0 L517.0,949.9 L521.0,943.9 L525.0,937.9 L529.1,932.0 L533.2,926.1 L537.3,920.2 L541.5,914.3 L545.7,908.5 L550.0,902.7 L554.3,896.9 L558.7,891.2 L563.1,885.5 L567.6,879.9 L572.3,874.4 L577.0,869.0 L581.9,863.7 L586.9,858.5 L592.0,853.4 L597.2,848.5 L602.6,843.7 L608.0,839.0 L613.6,834.4 L619.2,829.9 L625.0,825.6 L630.8,821.4 L636.7,817.2 L642.7,813.2 L648.7,809.3 L654.8,805.5 L661.0,801.8 L667.2,798.1 L673.5,794.6 L679.8,791.1 L686.1,787.8 L692.5,784.5 L699.0,781.2 L705.4,778.0 L711.9,774.9 L718.4,771.8 L724.9,768.8 L731.5,765.8 L738.0,762.8 L744.6,759.8 L751.2,756.9 L757.8,754.0 L764.3,751.1 L770.9,748.2 L777.6,745.3 L784.2,742.5 L790.8,739.7 L797.5,736.9 L804.1,734.2 L810.8,731.5 L817.5,728.8 L824.2,726.2 L830.9,723.6 L837.6,721.0 L844.4,718.5 L851.1,716.1 L857.9,713.7 L864.8,711.4 L871.6,709.1 L878.5,707.0 L885.3,704.9 L892.2,702.8 L899.2,700.9 L906.1,699.0 L913.1,697.2 L920.1,695.4 L927.1,693.8 L934.1,692.2 L941.1,690.7 L948.2,689.2 L955.3,687.8 L962.3,686.5 L969.4,685.2 L976.5,683.9 L983.6,682.8 L990.7,681.6 L997.8,680.5 L1004.9,679.4 L1012.1,678.4 L1019.2,677.4 L1026.3,676.4 L1033.5,675.4 L1040.6,674.5 L1047.7,673.6 L1054.9,672.7 L1062.0,671.8 L1069.2,670.9 L1076.3,670.0 L1083.5,669.1 L1090.6,668.3 L1097.8,667.4 L1104.9,666.6 L1112.1,665.7 L1119.2,664.9 L1126.4,664.0 L1133.5,663.2 L1140.7,662.3 L1147.8,661.5 L1155.0,660.6 L1162.1,659.8 L1169.3,659.0 L1176.4,658.1 L1183.6,657.3 L1190.7,656.5 L1197.9,655.7 L1205.0,654.9 L1212.2,654.1 L1219.3,653.3 L1226.5,652.5 L1233.7,651.8 L1240.8,651.0 L1248.0,650.3 L1255.2,649.6 L1262.3,648.9 L1269.5,648.2 L1276.7,647.5 L1283.8,646.8 L1291.0,646.2 L1298.2,645.6 L1305.3,644.9 L1312.5,644.3 L1319.7,643.7 L1326.9,643.2 L1334.0,642.6 L1341.2,642.0 L1348.4,641.5 L1355.6,641.0 L1362.8,640.5 L1369.9,639.9 L1377.1,639.5 L1384.3,639.0 L1391.5,638.5 L1398.7,638.0 L1405.9,637.5 L1413.0,637.1 L1420.2,636.6 L1427.4,636.2 L1434.6,635.8 L1441.8,635.3 L1449.0,634.9 L1456.2,634.5 L1463.4,634.1 L1470.5,633.7 L1477.7,633.3 L1484.9,632.9 L1492.1,632.5 L1499.3,632.1 L1506.5,631.7 L1513.7,631.3 L1520.9,631.0 L1528.1,630.6 L1535.3,630.2 L1542.4,629.9 L1549.6,629.5 L1556.8,629.2 L1564.0,628.9 L1571.2,628.5 L1578.4,628.2 L1585.6,627.9 L1592.8,627.6 L1600.0,627.2 L1607.2,626.9 L1614.4,626.6 L1621.6,626.3 L1628.8,626.0 L1635.9,625.7 L1643.1,625.5 L1650.3,625.2 L1657.5,624.9 L1664.7,624.6 L1671.9,624.3 L1679.1,624.1 L1686.3,623.8 L1693.5,623.5 L1700.7,623.3 L1707.9,623.0 L1715.1,622.8 L1722.3,622.5 L1729.5,622.3 L1736.7,622.0 L1743.9,621.8 L1751.1,621.5 L1758.3,621.3 L1765.5,621.0 L1772.7,620.8 L1779.8,620.5 L1787.0,620.3 L1794.2,620.0 L1801.4,619.8 L1808.6,619.6 L1815.8,619.3 L1823.0,619.1 L1830.2,618.9 L1837.4,618.6 L1844.6,618.4 L1851.8,618.2 L1859.0,617.9 L1866.2,617.7 L1873.4,617.5 L1880.6,617.2 L1887.8,617.0 L1895.0,616.8 L1902.2,616.5 L1909.4,616.3 L1916.6,616.1 L1923.8,615.8 L1931.0,615.6 L1938.2,615.4 L1952.2,614.9" stroke="#dd1313" stroke-width="7.5"/>
</g>
<path d="M1752.5,478.0 L1674.5,567.0" stroke="#000" stroke-width="3.6" fill="none"/><path d="M1656.0,588.0 L1670.1,560.5 L1681.4,570.4 Z" fill="#000"/>
<path d="M1457.0,535.0 L1378.1,627.7" stroke="#000" stroke-width="3.6" fill="none"/><path d="M1360.0,649.0 L1373.7,621.3 L1385.2,631.0 Z" fill="#000"/>
<g stroke="#141414" stroke-width="6.4" fill="none" stroke-linecap="butt">
<path d="M315.4,23.8 V1298.7 M1944.6,23.8 V1298.7"/>
<path d="M299.9,27.0 H1947.8 M289.59999999999997,1273.2 H1947.8"/>
<path d="M289.59999999999997,774.7 H315.4"/>
<path d="M289.59999999999997,276.2 H315.4"/>
<path d="M299.9,1024.0 H315.4"/>
<path d="M299.9,525.5 H315.4"/>
<path d="M722.7,1273.2 V1298.7"/>
<path d="M1130.0,1273.2 V1298.7"/>
<path d="M1537.3,1273.2 V1298.7"/>
<path d="M519.0,1273.2 V1287.2"/>
<path d="M926.3,1273.2 V1287.2"/>
<path d="M1333.6,1273.2 V1287.2"/>
<path d="M1740.9,1273.2 V1287.2"/>
</g>
<text transform="translate(276.8,1294.7) scale(1,1.04)" font-size="71" text-anchor="end">0</text>
<text transform="translate(276.8,796.2) scale(1,1.04)" font-size="71" text-anchor="end">50</text>
<g clip-path="url(#c100)"><text transform="translate(158.3,297.7) scale(1,1.04)" font-size="71" text-anchor="start">100</text></g>
<text transform="translate(315.4,1368.5) scale(1,1.04)" font-size="71" text-anchor="middle">0</text>
<text transform="translate(1130.0,1368.5) scale(1,1.04)" font-size="71" text-anchor="middle">2</text>
<text transform="translate(1537.3,1368.5) scale(1,1.04)" font-size="71" text-anchor="middle">3</text>
<text transform="translate(1944.6,1368.5) scale(1,1.04)" font-size="71" text-anchor="middle">4</text>
<g clip-path="url(#c1t)"><text transform="translate(702.0,1368.5) scale(1,1.04)" font-size="71" text-anchor="start">1</text></g>
<g clip-path="url(#c1l)"><text transform="translate(1854.5,163.0) scale(1,1.04)" font-size="96" text-anchor="start">1</text></g>
<text transform="translate(1897.0,696.5) scale(1,1.04)" font-size="96" text-anchor="middle">2</text>
<text transform="translate(1798.0,476.0) scale(1,1.04)" font-size="96" text-anchor="middle">3</text>
<text transform="translate(1506.0,513.5) scale(1,1.04)" font-size="96" text-anchor="middle">4</text>
<text transform="translate(1213.0,1497.0) scale(1,1.04)" font-size="93" text-anchor="middle" stroke="#000" stroke-width="0.8" stroke-linejoin="round">Magnetic field (kOe)</text>
<text transform="translate(90,636.8) rotate(-90) scale(1,1.04)" font-size="92.6" text-anchor="middle" stroke="#000" stroke-width="0.8" stroke-linejoin="round">Magnetization (emu/g)</text>
</g>
</svg>
</body></html>
